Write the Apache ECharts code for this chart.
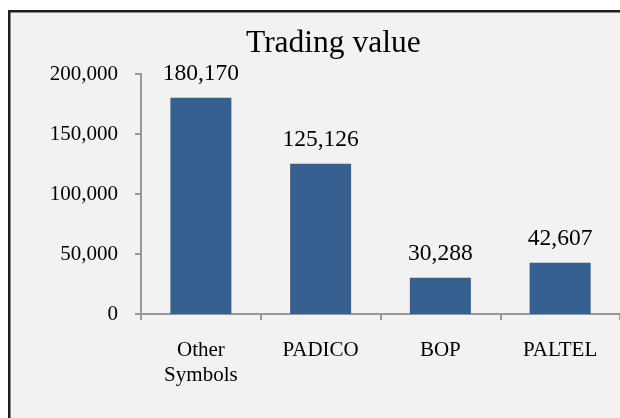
<!DOCTYPE html>
<html>
<head>
<meta charset="utf-8">
<script src="https://cdn.jsdelivr.net/npm/echarts@6/dist/echarts.min.js"></script>
<style>
html,body{margin:0;padding:0;background:#fff;}
#c{width:620px;height:418px;}
</style>
</head>
<body>
<div id="c"></div>
<script>
var categories = ['Other\nSymbols', 'PADICO', 'BOP', 'PALTEL'];
var values = [180170, 125126, 30288, 42607];
var titleText = 'Trading value';

var FONT = '"Liberation Serif", "Times New Roman", serif';
var chart = echarts.init(document.getElementById('c'));
chart.setOption({
  backgroundColor: '#ffffff',
  animation: false,
  graphic: {
    elements: [{
      type: 'rect',
      z: -10,
      silent: true,
      shape: { x: 9.25, y: 11.25, width: 700, height: 500 },
      style: { fill: '#F2F2F2', stroke: '#1e1e1e', lineWidth: 2.5 }
    }]
  },
  title: {
    text: titleText,
    left: 246,
    top: 28,
    padding: 0,
    textStyle: { fontFamily: FONT, fontSize: 31.5, fontWeight: 'normal', color: '#000' }
  },
  grid: { left: 141, top: 74, width: 483, height: 240, containLabel: false },
  xAxis: {
    type: 'category',
    data: categories,
    axisLine: { lineStyle: { color: '#999', width: 2 } },
    axisTick: { show: true, length: 6, alignWithLabel: false, lineStyle: { color: '#999', width: 2 } },
    axisLabel: { fontFamily: FONT, fontSize: 21, color: '#000', margin: 24, lineHeight: 25, interval: 0 },
    splitLine: { show: false }
  },
  yAxis: {
    type: 'value',
    min: 0, max: 200000, interval: 50000,
    axisLine: { show: true, lineStyle: { color: '#999', width: 2 } },
    axisTick: { show: true, length: 6, lineStyle: { color: '#999', width: 2 } },
    axisLabel: {
      fontFamily: FONT, fontSize: 21, color: '#000', margin: 23,
      formatter: function (v) { return v.toLocaleString('en-US'); }
    },
    splitLine: { show: false }
  },
  series: [{
    type: 'bar',
    data: values,
    barWidth: 61,
    itemStyle: { color: '#35608F' },
    label: {
      show: true, position: 'top', distance: 12,
      fontFamily: FONT, fontSize: 23.5, color: '#000',
      formatter: function (p) { return p.value.toLocaleString('en-US'); }
    }
  }]
});
</script>
</body>
</html>
